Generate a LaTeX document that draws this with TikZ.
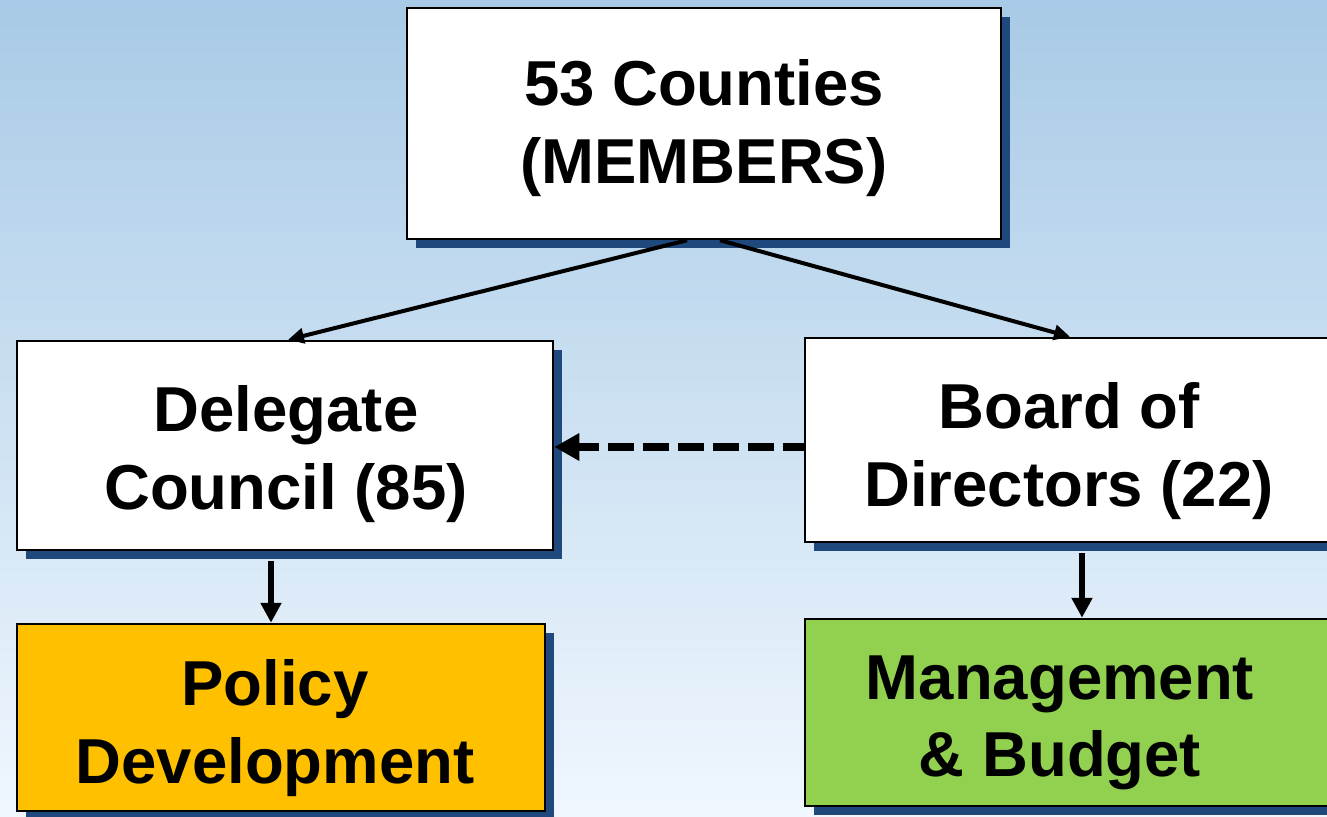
\documentclass[tikz,border=0pt]{standalone}
\usepackage{fontspec}
\setmainfont{Liberation Sans}
\usetikzlibrary{arrows.meta,shadows,calc}
\definecolor{bgtop}{RGB}{168,202,230}
\definecolor{bgbot}{RGB}{240,247,254}
\definecolor{shadowblue}{RGB}{31,73,125}
\definecolor{policyfill}{RGB}{255,192,0}
\definecolor{mgmtfill}{RGB}{146,208,80}
\begin{document}
\begin{tikzpicture}[x=1pt,y=-1pt,
  box/.style={draw=black, line width=2.5pt, fill=white, inner sep=0pt,
    drop shadow={shadow xshift=9pt, shadow yshift=-9pt, fill=shadowblue, opacity=1}},
  txt/.style={font=\bfseries\fontsize{63.5}{77.5}\selectfont, align=center, inner sep=0pt},
  conn/.style={line width=4pt, -{Triangle[length=16pt,width=15pt]}},
  downconn/.style={line width=6pt, -{Triangle[length=20pt,width=20pt]}},
  dashconn/.style={line width=8pt, dash pattern=on 26pt off 9pt, dash phase=5pt,
    -{Triangle[length=25pt,width=26pt]}}]
\useasboundingbox (0,0) rectangle (1327,816);
\clip (0,0) rectangle (1327,816);
\shade[top color=bgtop, bottom color=bgbot] (0,0) rectangle (1327,816);

\node[box, minimum width=594pt, minimum height=231pt] (top) at (704,123.5) {};
\node[box, minimum width=536pt, minimum height=209pt] (dc) at (285,445.5) {};
\node[box, minimum width=530pt, minimum height=204pt] (bd) at (1070,440) {};
\node[box, fill=policyfill, minimum width=528pt, minimum height=187pt] (pd) at (281,717.5) {};
\node[box, fill=mgmtfill, minimum width=530pt, minimum height=187pt] (mb) at (1070,712.5) {};

\node[txt] (topt) at (704,128) {53 Counties\\(MEMBERS)};
\node[txt] (dct) at (286,454) {Delegate\\Council (85)};
\node[txt] (bdt) at (1069,451) {Board of\\Directors (22)};
\node[txt] (pdt) at (275,728) {Policy\\Development};
\node[txt] (mbt) at (1060,723) {Management\\\& Budget};

\draw[conn] ([xshift=-17pt]top.south) -- ([xshift=3pt]dc.north);
\draw[conn] ([xshift=16pt]top.south) -- (bd.north);
\draw[downconn, shorten <=10pt] ([xshift=-14pt]dc.south) -- ([xshift=-14pt]dc.south |- pd.north);
\draw[downconn, shorten <=10pt] ([xshift=12pt]bd.south) -- ([xshift=12pt]bd.south |- mb.north);
\draw[dashconn] ([yshift=-7pt]bd.west) -- ([yshift=-7pt]bd.west -| dc.east);
\end{tikzpicture}
\end{document}
